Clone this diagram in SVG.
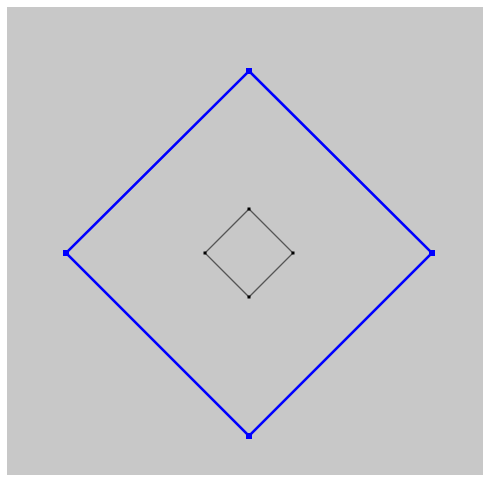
<svg xmlns="http://www.w3.org/2000/svg" width="490" height="482" viewBox="0 0 490 482">
<style>
.outer{fill:none;stroke:#0000ff;stroke-width:2.5;stroke-linejoin:miter}
.inner{fill:none;stroke:#555555;stroke-width:1.3}
.bv{fill:#0000ff}
.kv{fill:#000000}
</style>
<rect x="7" y="7" width="476" height="468" fill="#c8c8c8"/>
<g id="connectors">
<polygon class="outer" points="249,71 432,253 249,436 66,253"/>
<polygon class="inner" points="249,209 293,253 249,297 205,253"/>
</g>
<g id="outer-top"><rect class="bv" x="246" y="68" width="6" height="6"/></g>
<g id="outer-right"><rect class="bv" x="429" y="250" width="6" height="6"/></g>
<g id="outer-bottom"><rect class="bv" x="246" y="433" width="6" height="6"/></g>
<g id="outer-left"><rect class="bv" x="63" y="250" width="6" height="6"/></g>
<g id="inner-top"><rect class="kv" x="247.5" y="207.5" width="3" height="3"/></g>
<g id="inner-right"><rect class="kv" x="291.5" y="251.5" width="3" height="3"/></g>
<g id="inner-bottom"><rect class="kv" x="247.5" y="295.5" width="3" height="3"/></g>
<g id="inner-left"><rect class="kv" x="203.5" y="251.5" width="3" height="3"/></g>
</svg>
